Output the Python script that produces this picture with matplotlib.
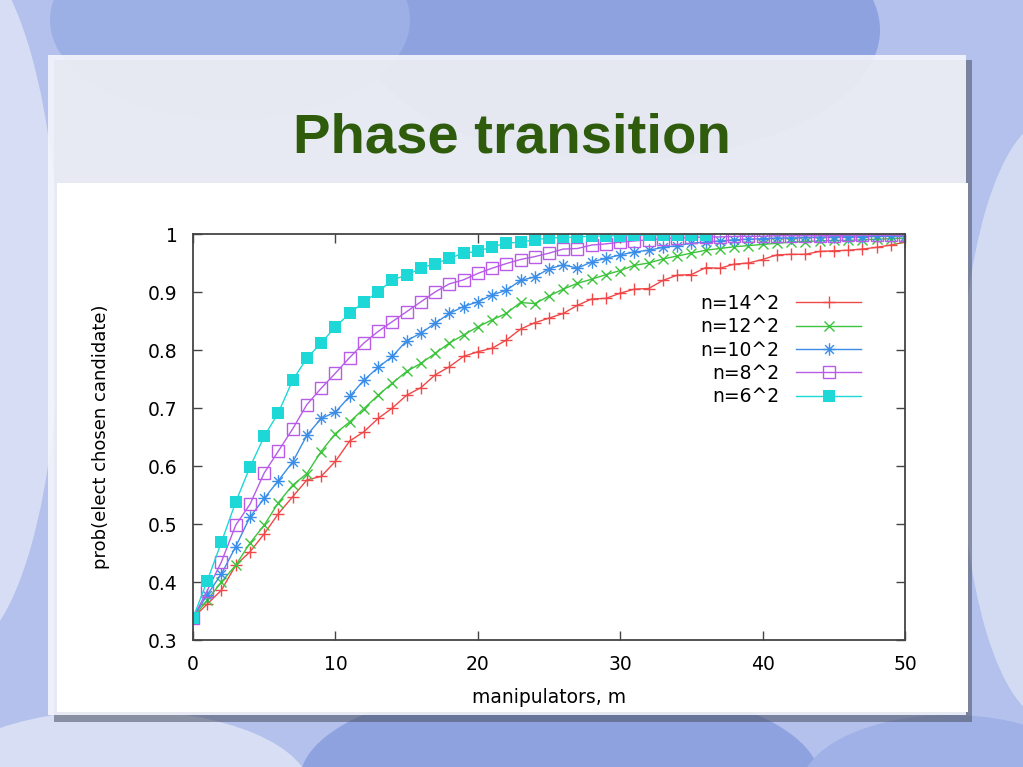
import numpy as np
import matplotlib.pyplot as plt
from matplotlib.path import Path
from matplotlib.patches import Rectangle, Ellipse

# Werte (m = 0..50)
m = np.arange(51)
m_short = np.arange(37)

p14 = [0.338, 0.362, 0.386, 0.429, 0.452, 0.483, 0.518, 0.547, 0.576, 0.582,
       0.608, 0.643, 0.659, 0.682, 0.700, 0.722, 0.735, 0.757, 0.771, 0.789,
       0.797, 0.803, 0.817, 0.836, 0.847, 0.855, 0.863, 0.877, 0.888, 0.889,
       0.898, 0.905, 0.906, 0.920, 0.929, 0.930, 0.942, 0.941, 0.948, 0.950,
       0.956, 0.964, 0.965, 0.965, 0.970, 0.971, 0.972, 0.974, 0.977, 0.981,
       0.986]
p12 = [0.338, 0.369, 0.400, 0.429, 0.467, 0.498, 0.537, 0.567, 0.587, 0.625,
       0.656, 0.676, 0.699, 0.722, 0.743, 0.763, 0.777, 0.794, 0.812, 0.826,
       0.840, 0.852, 0.863, 0.882, 0.880, 0.893, 0.905, 0.915, 0.922, 0.930,
       0.937, 0.946, 0.950, 0.957, 0.962, 0.967, 0.972, 0.975, 0.978, 0.980,
       0.982, 0.984, 0.986, 0.987, 0.988, 0.989, 0.989, 0.990, 0.991, 0.992,
       0.993]
p10 = [0.338, 0.378, 0.414, 0.461, 0.512, 0.544, 0.575, 0.607, 0.653, 0.682,
       0.693, 0.720, 0.748, 0.770, 0.789, 0.816, 0.829, 0.846, 0.863, 0.875,
       0.883, 0.895, 0.903, 0.920, 0.926, 0.940, 0.947, 0.941, 0.952, 0.958,
       0.964, 0.969, 0.972, 0.977, 0.980, 0.984, 0.986, 0.988, 0.990, 0.991,
       0.992, 0.993, 0.993, 0.994, 0.994, 0.995, 0.995, 0.995, 0.996, 0.996,
       0.996]
p8 = [0.338, 0.385, 0.435, 0.498, 0.534, 0.588, 0.626, 0.664, 0.706, 0.734,
      0.760, 0.787, 0.812, 0.832, 0.849, 0.866, 0.883, 0.900, 0.914, 0.921,
      0.932, 0.941, 0.949, 0.956, 0.961, 0.967, 0.974, 0.975, 0.981, 0.983,
      0.986, 0.988, 0.990, 0.992, 0.993, 0.994, 0.995, 0.995, 0.996, 0.996,
      0.996, 0.997, 0.997, 0.997, 0.997, 0.997, 0.998, 0.998, 0.998, 0.998,
      0.998]
p6 = [0.338, 0.402, 0.469, 0.538, 0.598, 0.651, 0.692, 0.748, 0.786, 0.812,
      0.840, 0.863, 0.883, 0.900, 0.921, 0.929, 0.941, 0.949, 0.958, 0.967,
      0.970, 0.978, 0.984, 0.986, 0.990, 0.993, 0.994, 0.995, 0.996, 0.997,
      0.997, 0.998, 0.998, 0.998, 0.999, 0.999, 0.999]

labels = ['n=14^2', 'n=12^2', 'n=10^2', 'n=8^2', 'n=6^2']
colors = ['#f04848', '#3cc43c', '#3a8ee8', '#b85ce8', '#1ed8d8']

x_ticks = [0, 10, 20, 30, 40, 50]
y_ticks = [0.3, 0.4, 0.5, 0.6, 0.7, 0.8, 0.9, 1.0]
y_ticklabels = ['0.3', '0.4', '0.5', '0.6', '0.7', '0.8', '0.9', '1']

plt.rcParams['font.family'] = ['DejaVu Sans']

W, H = 1023, 767
fig = plt.figure(figsize=(W / 100, H / 100), dpi=100)
fig.patch.set_facecolor('#b3c1ec')

# Hintergrund der Folie (Pixelkoordinaten)
bg = fig.add_axes([0, 0, 1, 1])
bg.set_xlim(0, W)
bg.set_ylim(H, 0)
bg.axis('off')
bg.add_patch(Ellipse((620, 30), 520, 260, color='#8ea2e0', lw=0))
bg.add_patch(Ellipse((230, 20), 360, 200, color='#9cb0e6', lw=0))
bg.add_patch(Ellipse((-40, 300), 200, 700, color='#d6ddf4', lw=0))
bg.add_patch(Ellipse((1050, 420), 180, 600, color='#d3dbf3', lw=0))
bg.add_patch(Ellipse((560, 780), 520, 200, color='#8ea2e0', lw=0))
bg.add_patch(Ellipse((120, 790), 380, 160, color='#d8dff5', lw=0))
bg.add_patch(Ellipse((950, 790), 300, 150, color='#9fb1e6', lw=0))

# Panel mit Schatten
bg.add_patch(Rectangle((54, 60), 918, 662, color='#4a4f60', alpha=0.55, lw=0))
bg.add_patch(Rectangle((48, 55), 918, 660, color='#f4f6fc', alpha=0.9, lw=0))
bg.add_patch(Rectangle((57, 183), 911, 529, color='white', lw=0))

fig.text(0.5, 0.82, 'Phase transition', ha='center', va='center',
         fontsize=40.5, fontweight='bold', color='#2e5c0c',
         family=['Liberation Sans', 'DejaVu Sans'])

# gnuplot-Stern: + und x übereinander
star = Path([(-1, 0), (1, 0), (0, -1), (0, 1),
             (-0.7, -0.7), (0.7, 0.7), (-0.7, 0.7), (0.7, -0.7)],
            [Path.MOVETO, Path.LINETO] * 4)

ax = fig.add_axes([193 / W, 1 - 640 / H, 712 / W, 406 / H])
ax.plot(m, p14, color=colors[0], lw=1, marker='+', ms=8, mew=1, label=labels[0])
ax.plot(m, p12, color=colors[1], lw=1, marker='x', ms=7, mew=1, label=labels[1])
ax.plot(m, p10, color=colors[2], lw=1, marker=star, ms=9, mew=1,
        mfc='none', label=labels[2])
ax.plot(m, p8, color=colors[3], lw=1, marker='s', ms=8.5, mew=1,
        mfc='none', label=labels[3])
ax.plot(m_short, p6, color=colors[4], lw=1, marker='s', ms=8.5, mew=0,
        label=labels[4])

ax.set_xlim(0, 50)
ax.set_ylim(0.3, 1.0)
ax.set_xticks(x_ticks)
ax.set_yticks(y_ticks)
ax.set_yticklabels(y_ticklabels)
ax.tick_params(direction='in', length=6.5, width=1, top=True, right=True,
               labelsize=13.5, color='#444444', pad=11)
for s in ax.spines.values():
    s.set_color('#444444')
    s.set_linewidth(1.3)

ax.set_xlabel('manipulators, m', fontsize=13.5, labelpad=10)
ax.set_ylabel('prob(elect chosen candidate)', fontsize=13, labelpad=27)

ax.legend(loc='upper right', bbox_to_anchor=(861 / W, 1 - 294 / H),
          bbox_transform=fig.transFigure, frameon=False, markerfirst=False,
          fontsize=13.5, handlelength=3.45, handletextpad=0.9,
          labelspacing=0.23, borderpad=0, borderaxespad=0)

fig.savefig('out.png', dpi=100, facecolor=fig.get_facecolor())
